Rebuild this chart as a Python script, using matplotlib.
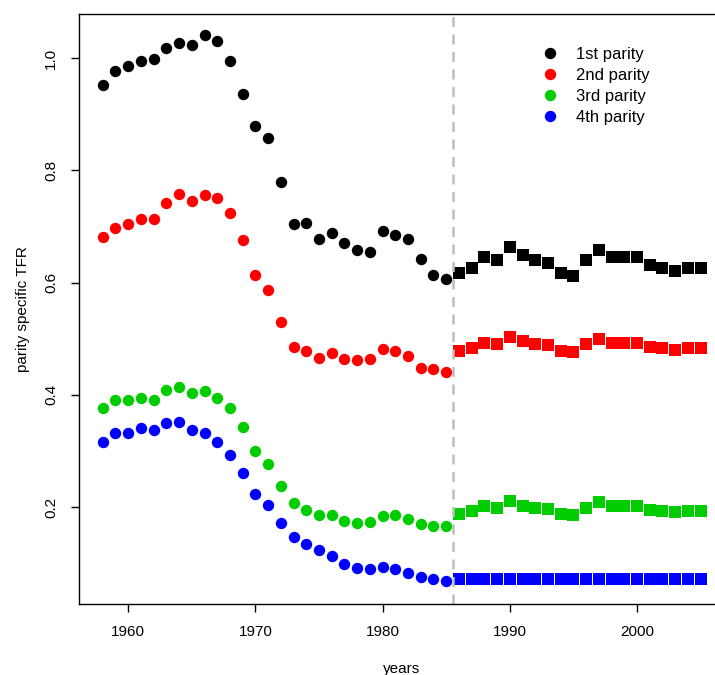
import matplotlib
matplotlib.use('Agg')
import matplotlib.pyplot as plt
from matplotlib.lines import Line2D

plt.rcParams['font.family'] = ['Liberation Sans', 'DejaVu Sans']

# observed years (circles) and projected years (squares)
obs_years = list(range(1958, 1986))
proj_years = list(range(1986, 2006))

first_obs = [0.953, 0.978, 0.986, 0.996, 0.998, 1.019, 1.027, 1.024, 1.042, 1.030,
             0.996, 0.937, 0.880, 0.857, 0.779, 0.705, 0.707, 0.678, 0.689, 0.670,
             0.659, 0.654, 0.692, 0.685, 0.678, 0.643, 0.614, 0.606]
second_obs = [0.681, 0.698, 0.705, 0.714, 0.714, 0.742, 0.758, 0.745, 0.757, 0.751,
              0.725, 0.676, 0.613, 0.586, 0.530, 0.486, 0.478, 0.466, 0.475, 0.463,
              0.462, 0.464, 0.482, 0.478, 0.470, 0.448, 0.446, 0.440]
third_obs = [0.376, 0.391, 0.390, 0.395, 0.391, 0.408, 0.414, 0.404, 0.407, 0.395,
             0.376, 0.342, 0.300, 0.276, 0.238, 0.207, 0.195, 0.186, 0.185, 0.175,
             0.171, 0.174, 0.184, 0.186, 0.179, 0.169, 0.166, 0.166]
fourth_obs = [0.315, 0.331, 0.331, 0.340, 0.338, 0.350, 0.352, 0.337, 0.332, 0.315,
              0.293, 0.260, 0.224, 0.204, 0.172, 0.147, 0.134, 0.123, 0.112, 0.099,
              0.092, 0.090, 0.093, 0.090, 0.083, 0.075, 0.071, 0.068]

first_proj = [0.617, 0.626, 0.646, 0.641, 0.663, 0.649, 0.641, 0.635, 0.617, 0.612,
              0.641, 0.659, 0.646, 0.646, 0.646, 0.631, 0.626, 0.621, 0.626, 0.626]
second_proj = [0.478, 0.484, 0.493, 0.491, 0.503, 0.496, 0.491, 0.489, 0.478, 0.477,
               0.491, 0.500, 0.493, 0.493, 0.493, 0.485, 0.484, 0.480, 0.484, 0.484]
third_proj = [0.188, 0.192, 0.201, 0.199, 0.210, 0.202, 0.199, 0.197, 0.188, 0.186,
              0.199, 0.208, 0.201, 0.201, 0.201, 0.195, 0.192, 0.191, 0.192, 0.192]
fourth_proj = [0.071] * 20

labels = ['1st parity', '2nd parity', '3rd parity', '4th parity']
colors = ['#000000', '#FF0000', '#00CD00', '#0000FF']
cutoff = 1985.5

fig = plt.figure(figsize=(7.15, 6.75), dpi=100)
ax = fig.add_axes([0.1103, 0.1052, 0.903, 0.8741])

obs = [first_obs, second_obs, third_obs, fourth_obs]
proj = [first_proj, second_proj, third_proj, fourth_proj]
for o, p, c in zip(obs, proj, colors):
    ax.plot(obs_years, o, 'o', color=c, markersize=8.2, markeredgewidth=0)
    ax.plot(proj_years, p, 's', color=c, markersize=8.0, markeredgewidth=0)

ax.axvline(cutoff, color='#BEBEBE', lw=1.8, ls=(0, (4, 3)))

ax.set_xlim(1956.12, 2006.88)
ax.set_ylim(0.027, 1.079)
ax.set_xticks([1960, 1970, 1980, 1990, 2000])
ax.set_yticks([0.2, 0.4, 0.6, 0.8, 1.0])
ax.set_yticklabels(['0.2', '0.4', '0.6', '0.8', '1.0'], rotation=90, va='center')
ax.tick_params(length=6, width=1, labelsize=11, pad=9)
for s in ax.spines.values():
    s.set_linewidth(1)

ax.set_xlabel('years', fontsize=11, labelpad=17)
ax.set_ylabel('parity specific TFR', fontsize=11, labelpad=10)

handles = [Line2D([], [], marker='o', ls='', color=c, markersize=8.2, markeredgewidth=0)
           for c in colors]
ax.legend(handles, labels, loc='upper left', bbox_to_anchor=(0.693, 0.955), frameon=False,
          fontsize=12, handletextpad=0.6, labelspacing=0.35, borderaxespad=0)

plt.savefig('out.png', dpi=100)
